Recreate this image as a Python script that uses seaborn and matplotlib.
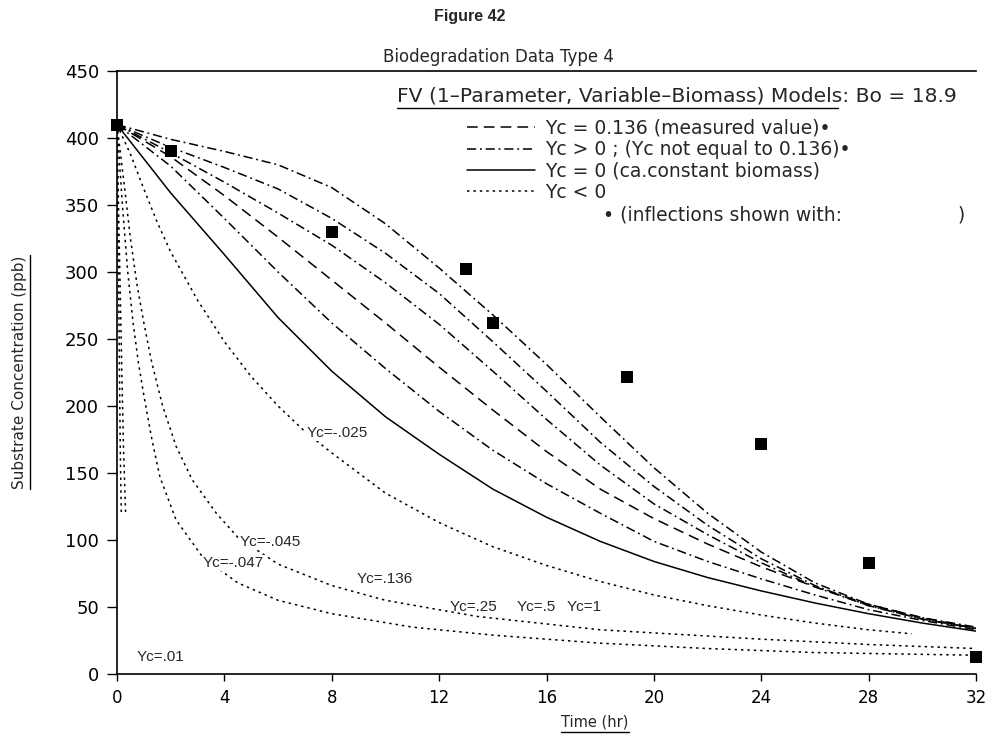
import matplotlib
matplotlib.use("Agg")
import matplotlib.pyplot as plt
from matplotlib.lines import Line2D
import numpy as np
import pandas as pd
import seaborn as sns

# measured substrate concentration (squares)
obs_time = [0, 2, 8, 13, 14, 19, 24, 28, 32]
obs_conc = [410, 390, 330, 302, 262, 222, 172, 83, 13]

# model curves (time in hr, conc in ppb)
grid_t = [0, 2, 4, 6, 8, 10, 12, 14, 16, 18, 20, 22, 24, 26, 28, 30, 32]
yc1_c = [410, 399, 390, 380, 363, 336, 303, 268, 231, 192, 154, 120, 91, 68, 52, 42, 35]
yc05_c = [410, 393, 378, 362, 340, 314, 284, 248, 211, 173, 140, 111, 86, 66, 51, 41, 34]
yc025_c = [410, 389, 367, 344, 320, 292, 261, 226, 190, 156, 127, 104, 83, 65, 51, 41, 34]
yc0136_c = [410, 386, 357, 326, 294, 262, 229, 197, 166, 138, 116, 97, 80, 65, 52, 42, 34]
yc001_c = [410, 379, 340, 300, 262, 228, 196, 167, 142, 120, 99, 84, 71, 59, 48, 40, 33]
yc0_c = [410, 359, 313, 266, 226, 192, 164, 138, 117, 99, 84, 72, 62, 53, 45, 38, 32]

ycm025_t = [0, 0.5, 1, 1.5, 2, 3, 4, 5, 6, 7, 8, 10, 12, 14, 16, 18, 20, 22, 24, 26, 28, 29.6]
ycm025_c = [410, 388, 362, 337, 315, 279, 248, 222, 200, 181, 165, 135, 113, 95, 81, 69, 59, 51, 44, 38, 33, 30]

ycm045_t = [0, 0.3, 0.5, 0.75, 1, 1.3, 1.7, 2.2, 2.8, 3.7, 4.5, 6, 8, 10, 13.4, 18, 24, 28, 32]
ycm045_c = [410, 360, 325, 290, 262, 232, 200, 170, 145, 120, 102, 82, 66, 55, 43, 33, 26, 22, 19]

ycm047_t = [0, 0.2, 0.4, 0.6, 0.8, 1.0, 1.3, 1.6, 2.2, 3.2, 4.5, 6, 8, 11, 14, 18, 22, 26, 32]
ycm047_c = [410, 350, 300, 262, 232, 208, 175, 147, 115, 87, 68, 55, 45, 35, 29, 23, 19, 16, 14]

steep1_t = [0, 0.03, 0.06, 0.09, 0.12, 0.16]
steep1_c = [410, 350, 290, 230, 170, 120]
steep2_t = [0, 0.06, 0.12, 0.18, 0.24, 0.32]
steep2_c = [410, 345, 285, 225, 170, 120]

curves = [
    ("Yc=1", "dashdot", grid_t, yc1_c),
    ("Yc=.5", "dashdot", grid_t, yc05_c),
    ("Yc=.25", "dashdot", grid_t, yc025_c),
    ("Yc=.136", "dashed", grid_t, yc0136_c),
    ("Yc=.01", "dashdot", grid_t, yc001_c),
    ("Yc=0", "solid", grid_t, yc0_c),
    ("Yc=-.025", "dotted", ycm025_t, ycm025_c),
    ("Yc=-.045", "dotted", ycm045_t, ycm045_c),
    ("Yc=-.047", "dotted", ycm047_t, ycm047_c),
    ("steep1", "dotted", steep1_t, steep1_c),
    ("steep2", "dotted", steep2_t, steep2_c),
]

frames = []
for name, kind, t, c in curves:
    frames.append(pd.DataFrame({"curve": name, "kind": kind, "time": t, "conc": c}))
df = pd.concat(frames, ignore_index=True)
obs = pd.DataFrame({"time": obs_time, "conc": obs_conc})

dash_styles = {
    "solid": "",
    "dashed": (7, 4),
    "dashdot": (6, 2.5, 1.2, 2.5),
    "dotted": (1.6, 2.6),
}

# (text, x, y, covers the curve)
curve_labels = [
    ("Yc=-.025", 7.07, 180, True),
    ("Yc=-.045", 4.58, 98.5, True),
    ("Yc=-.047", 3.2, 83, True),
    ("Yc=.136", 8.93, 71, False),
    ("Yc=.25", 12.39, 50, False),
    ("Yc=.5", 14.88, 50, False),
    ("Yc=1", 16.75, 50, False),
    ("Yc=.01", 0.74, 12.7, False),
]

sns.set_theme(style="ticks")
plt.rcParams["font.family"] = ["DejaVu Sans", "Liberation Sans"]

fig = plt.figure(figsize=(9.86, 7.38), dpi=100)
ax = fig.add_axes([117 / 986, 1 - 674 / 738, 859 / 986, 603 / 738])

sns.lineplot(
    data=df, x="time", y="conc", units="curve", style="kind",
    dashes=dash_styles, color="black", linewidth=1.1,
    estimator=None, sort=False, legend=False, ax=ax,
)
sns.scatterplot(
    data=obs, x="time", y="conc", marker="s", s=70, color="black",
    edgecolor="black", linewidth=0, clip_on=False, zorder=5, ax=ax,
)

for txt, x, y, cover in curve_labels:
    box = dict(facecolor="white", edgecolor="none", pad=0.5) if cover else None
    ax.text(x, y, txt, fontsize=11, family="Liberation Sans", va="center", ha="left",
            bbox=box, zorder=4)

ax.set_xlim(0, 32)
ax.set_ylim(0, 450)
ax.set_xticks(np.arange(0, 33, 4))
ax.set_yticks(np.arange(0, 451, 50))
ax.tick_params(axis="both", direction="out", length=7, width=1, colors="black",
               labelsize=13, pad=6)
ax.tick_params(axis="x", length=5, labelsize=12)
ax.spines["right"].set_visible(False)
for s in ["left", "bottom", "top"]:
    ax.spines[s].set_linewidth(1.2)
    ax.spines[s].set_color("black")
ax.set_xlabel("")
ax.set_ylabel("")

# legend block
handles = [
    Line2D([], [], color="black", lw=1.1, dashes=dash_styles["dashed"]),
    Line2D([], [], color="black", lw=1.1, dashes=dash_styles["dashdot"]),
    Line2D([], [], color="black", lw=1.1),
    Line2D([], [], color="black", lw=1.1, dashes=dash_styles["dotted"]),
]
labels = [
    "Yc = 0.136 (measured value)•",
    "Yc > 0 ; (Yc not equal to 0.136)•",
    "Yc = 0 (ca.constant biomass)",
    "Yc < 0",
]
ax.legend(
    handles, labels, loc="upper left",
    bbox_to_anchor=(467 / 986, 1 - 119 / 738), bbox_transform=fig.transFigure,
    frameon=False, fontsize=13.5, handlelength=3.63, handletextpad=0.53,
    labelspacing=0.12, borderpad=0, borderaxespad=0,
)

fig.text(470 / 986, 1 - 17 / 738, "Figure 42", ha="center", va="center",
         fontsize=11.5, fontweight="bold", family="Liberation Sans")
fig.text(383 / 986, 1 - 57 / 738, "Biodegradation Data Type 4", ha="left", va="center",
         fontsize=12)
header = fig.text(397 / 986, 1 - 96 / 738,
                  "FV (1–Parameter, Variable–Biomass) Models: Bo = 18.9",
                  ha="left", va="center", fontsize=14.6)
fig.text(603 / 986, 1 - 215 / 738, "• (inflections shown with:", ha="left", va="center",
         fontsize=13.5)
fig.text(958 / 986, 1 - 215 / 738, ")", ha="left", va="center", fontsize=13.5)
xlab = fig.text(595 / 986, 1 - 722 / 738, "Time (hr)", ha="center", va="center",
                fontsize=10.5)
ylab = fig.text(20 / 986, 1 - 372 / 738, "Substrate Concentration (ppb)", ha="center",
                va="center", rotation=90, fontsize=11)

# underlines
fig.canvas.draw()
inv = fig.transFigure.inverted()
for t, horiz in [(header, True), (xlab, True), (ylab, False)]:
    bb = t.get_window_extent().transformed(inv)
    if horiz:
        x1 = bb.x1 if t is not header else 838 / 986
        fig.add_artist(Line2D([bb.x0, x1], [bb.y0 - 0.004, bb.y0 - 0.004],
                              color="black", lw=1.0))
    else:
        fig.add_artist(Line2D([bb.x1 + 0.003, bb.x1 + 0.003], [bb.y0, bb.y1],
                              color="black", lw=1.0))

fig.savefig("out.png", dpi=100)
